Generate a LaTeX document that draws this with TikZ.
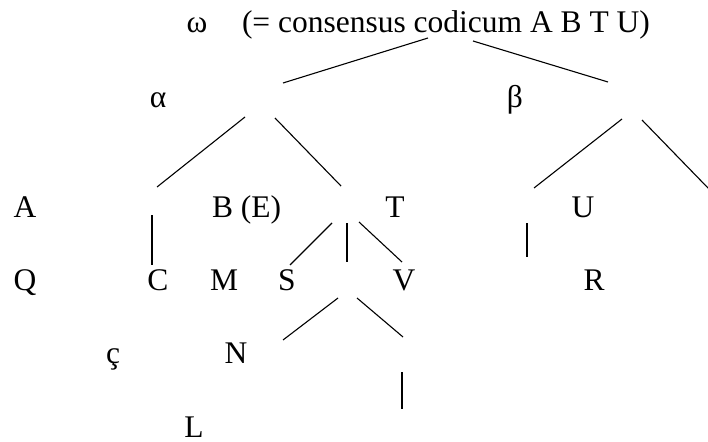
\documentclass[tikz,border=0pt]{standalone}
\usepackage{fontspec}
\setmainfont{Liberation Serif}
\begin{document}
\begin{tikzpicture}[x=1pt,y=-1pt,
  lbl/.style={inner sep=0pt,outer sep=0pt,font=\fontsize{31.5}{36}\selectfont},
  edge/.style={line width=1.1pt,line cap=butt}]
\useasboundingbox (0,0) rectangle (708,441);
% labels
\node[lbl,anchor=base] (omega) at (197,33) {ω};
\node[lbl,anchor=base west] (cons) at (242,33) {(= consensus codicum A B T U)};
\node[lbl,anchor=base] (alpha) at (158,107) {α};
\node[lbl,anchor=base] (beta) at (515,107) {β};
\node[lbl,anchor=base] (A) at (25,217) {A};
\node[lbl,anchor=base west] (B) at (212,217) {B (E)};
\node[lbl,anchor=base] (T) at (395,217) {T};
\node[lbl,anchor=base] (U) at (583,217) {U};
\node[lbl,anchor=base] (Q) at (25,290) {Q};
\node[lbl,anchor=base] (C) at (158,290) {C};
\node[lbl,anchor=base] (M) at (224,290) {M};
\node[lbl,anchor=base] (S) at (287,290) {S};
\node[lbl,anchor=base] (V) at (404,290) {V};
\node[lbl,anchor=base] (R) at (594,290) {R};
\node[lbl,anchor=base] (cc) at (113,363) {ç};
\node[lbl,anchor=base] (N) at (236,363) {N};
\node[lbl,anchor=base] (L) at (194,437) {L};
% line end points
\coordinate (o1a) at (428,38);  \coordinate (o1b) at (283,83);
\coordinate (o2a) at (473,41);  \coordinate (o2b) at (608,82);
\coordinate (a1a) at (245,117); \coordinate (a1b) at (157,187);
\coordinate (a2a) at (275,118); \coordinate (a2b) at (341,186);
\coordinate (b1a) at (622,119); \coordinate (b1b) at (534,188);
\coordinate (b2a) at (642,120); \coordinate (b2b) at (708,188);
\coordinate (c1a) at (152,215); \coordinate (c1b) at (152,265);
\coordinate (t1a) at (332,223); \coordinate (t1b) at (290,265);
\coordinate (t2a) at (347,223); \coordinate (t2b) at (347,262);
\coordinate (t3a) at (359,222); \coordinate (t3b) at (402,262);
\coordinate (u1a) at (527,223); \coordinate (u1b) at (527,257);
\coordinate (n1a) at (338,298); \coordinate (n1b) at (283,340);
\coordinate (n2a) at (357,298); \coordinate (n2b) at (403,337);
\coordinate (l1a) at (402,372); \coordinate (l1b) at (402,409);
% connectors
\foreach \p in {o1,o2,a1,a2,b1,b2,c1,t1,t2,t3,u1,n1,n2,l1}
  \draw[edge] (\p a) -- (\p b);
\end{tikzpicture}
\end{document}
